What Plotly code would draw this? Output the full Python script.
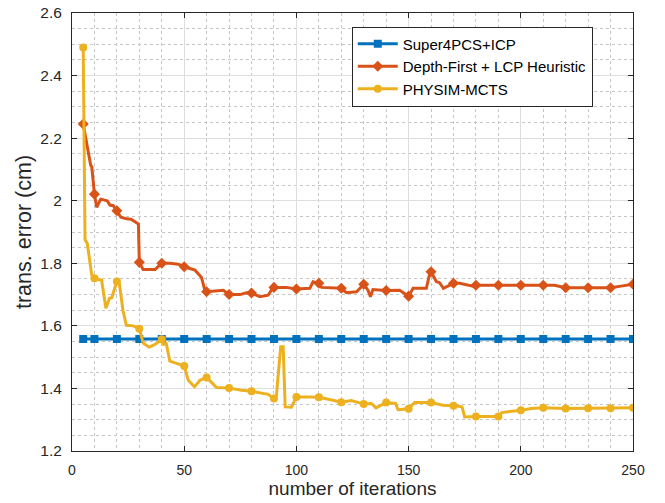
import plotly.graph_objects as go

# ---------------- data ----------------
blue_x = [5, 10, 20, 30, 40, 50, 60, 70, 80, 90, 100, 110, 120, 130, 140, 150,
          160, 170, 180, 190, 200, 210, 220, 230, 240, 250]
blue_y = [1.558, 1.558, 1.558, 1.558, 1.558, 1.558, 1.558, 1.558, 1.558, 1.558,
          1.558, 1.558, 1.558, 1.558, 1.558, 1.558, 1.558, 1.558, 1.558, 1.558,
          1.558, 1.558, 1.558, 1.558, 1.558, 1.558]

orange_x = [5, 8.3, 8.8, 10, 11, 12.8, 15.7, 16.9, 18.4, 19, 20, 21.8, 24.4, 26.3,
            29.1, 29.6, 30, 31.7, 37, 40, 43.6, 47.3, 50, 54.8, 57.7, 59.2, 60,
            64.4, 67.4, 70, 74.8, 77.8, 80, 83.7, 87.4, 89.6, 90, 95.6, 100, 106,
            107.4, 110, 111.2, 117.9, 120, 122.3, 126.8, 129, 130, 131.9, 133,
            134.1, 140, 146, 150, 152, 157.9, 159.7, 160, 162.4, 163.8, 165.5,
            166.8, 170, 172.7, 178.7, 180, 190, 200, 210, 215, 220, 230, 240,
            244.7, 250]
orange_y = [2.245, 2.114, 2.109, 2.021, 1.979, 2.005, 2.0, 1.986, 1.984, 1.977,
            1.968, 1.947, 1.942, 1.941, 1.928, 1.926, 1.803, 1.78, 1.78, 1.80,
            1.80, 1.797, 1.789, 1.778, 1.755, 1.714, 1.709, 1.712, 1.714, 1.70,
            1.70, 1.706, 1.705, 1.693, 1.698, 1.723, 1.723, 1.723, 1.718, 1.72,
            1.741, 1.736, 1.723, 1.72, 1.72, 1.706, 1.709, 1.725, 1.733, 1.714,
            1.693, 1.716, 1.713, 1.714, 1.695, 1.72, 1.72, 1.776, 1.773, 1.741,
            1.738, 1.72, 1.724, 1.736, 1.736, 1.727, 1.73, 1.73, 1.73, 1.73,
            1.73, 1.722, 1.722, 1.722, 1.727, 1.733]

yellow_x = [5, 5.8, 6.8, 8.8, 10, 13.2, 15.1, 16.7, 17.7, 20, 21.1, 22.7, 24.2,
            27.3, 30, 31.7, 34.4, 36.8, 40, 40.8, 42, 43.6, 46.6, 50, 51.8, 54.6,
            57, 60, 62.6, 64.4, 70, 75.5, 80, 83.7, 87.4, 88.9, 90, 91.1, 93,
            94.1, 95, 97.8, 100, 106, 110, 116.3, 120, 124.5, 130, 133.4, 135.5,
            140, 144.2, 145.3, 150, 152.7, 160, 165.3, 170, 173.8, 175, 180, 190,
            191.3, 193.5, 200, 204.7, 210, 220, 230, 240, 250]
yellow_y = [2.49, 1.876, 1.864, 1.762, 1.752, 1.746, 1.656, 1.688, 1.69, 1.742,
            1.735, 1.65, 1.602, 1.60, 1.591, 1.545, 1.532, 1.54, 1.557, 1.541,
            1.544, 1.487, 1.48, 1.472, 1.426, 1.405, 1.426, 1.435, 1.416, 1.403,
            1.401, 1.394, 1.391, 1.386, 1.381, 1.373, 1.368, 1.378, 1.533, 1.533,
            1.341, 1.34, 1.373, 1.373, 1.372, 1.362, 1.356, 1.361, 1.35, 1.352,
            1.338, 1.355, 1.352, 1.332, 1.335, 1.355, 1.355, 1.346, 1.345, 1.341,
            1.309, 1.31, 1.31, 1.322, 1.325, 1.33, 1.336, 1.338, 1.336, 1.337,
            1.337, 1.338]

names = ["Super4PCS+ICP", "Depth-First + LCP Heuristic", "PHYSIM-MCTS"]
x_ticks = [0, 50, 100, 150, 200, 250]
y_ticks = [1.2, 1.4, 1.6, 1.8, 2.0, 2.2, 2.4, 2.6]

# ---------------- styles ----------------
colors = ["#0072BD", "#D95319", "#EDB120"]
symbols = ["square", "diamond", "circle"]
msizes = [8, 8.5, 8]
FONT = "Liberation Sans, Arial, sans-serif"
TXT = "#262626"


def marker_sizes(xs, s):
    return [s if (x == 5 or (float(x).is_integer() and int(x) % 10 == 0)) else 0
            for x in xs]


fig = go.Figure()
series = [(blue_x, blue_y), (orange_x, orange_y), (yellow_x, yellow_y)]
for (xs, ys), c, sym, ms in zip(series, colors, symbols, msizes):
    fig.add_trace(go.Scatter(
        x=xs, y=ys, mode="lines+markers", showlegend=False,
        line=dict(color=c, width=3),
        marker=dict(symbol=sym, size=marker_sizes(xs, ms), color=c, opacity=1,
                    line=dict(width=0)),
        hoverinfo="skip"))
for c, sym, ms, nm in zip(colors, symbols, msizes, names):
    fig.add_trace(go.Scatter(
        x=[None], y=[None], mode="lines+markers", name=nm,
        line=dict(color=c, width=3),
        marker=dict(symbol=sym, size=ms, color=c, opacity=1,
                    line=dict(width=0))))

axis_common = dict(
    showline=True, linecolor=TXT, linewidth=1, mirror="ticks",
    ticks="inside", ticklen=5, tickcolor=TXT, tickwidth=1,
    showgrid=True, gridcolor="#dedede", gridwidth=1, zeroline=False,
    automargin=False, ticklabeloverflow="allow",
)

fig.update_xaxes(
    range=[0, 250], tickvals=x_ticks, ticktext=[str(v) for v in x_ticks],
    tickfont=dict(family=FONT, size=14, color=TXT),
    ticklabelstandoff=6,
    title=dict(text="number of iterations", standoff=4,
               font=dict(family=FONT, size=19, color=TXT)),
    minor=dict(dtick=10, showgrid=True, gridcolor="#c6c6c6", griddash="dot",
               gridwidth=1, ticks=""),
    **axis_common)
fig.update_yaxes(
    range=[1.2, 2.6], tickvals=y_ticks, ticktext=[f"{v:g}" for v in y_ticks],
    tickfont=dict(family=FONT, size=15.5, color=TXT),
    ticklabelstandoff=6,
    title=dict(text="trans. error (cm)", standoff=2,
               font=dict(family=FONT, size=21.5, color=TXT)),
    minor=dict(dtick=0.05, showgrid=True, gridcolor="#c6c6c6", griddash="dot",
               gridwidth=1, ticks=""),
    **axis_common)

fig.update_layout(
    width=665, height=503,
    margin=dict(l=72, r=31.5, t=13.3, b=52.3),
    plot_bgcolor="white", paper_bgcolor="white",
    legend=dict(x=0.4987, y=0.969, xanchor="left", yanchor="top",
                bgcolor="white", bordercolor=TXT, borderwidth=1,
                font=dict(family=FONT, size=15, color="#000000"),
                tracegroupgap=0, itemwidth=40),
)

fig.write_html(
    "out.html",
    config={"displayModeBar": False, "staticPlot": True},
    post_script="document.body.style.margin='0';document.body.style.overflow='hidden';",
)
